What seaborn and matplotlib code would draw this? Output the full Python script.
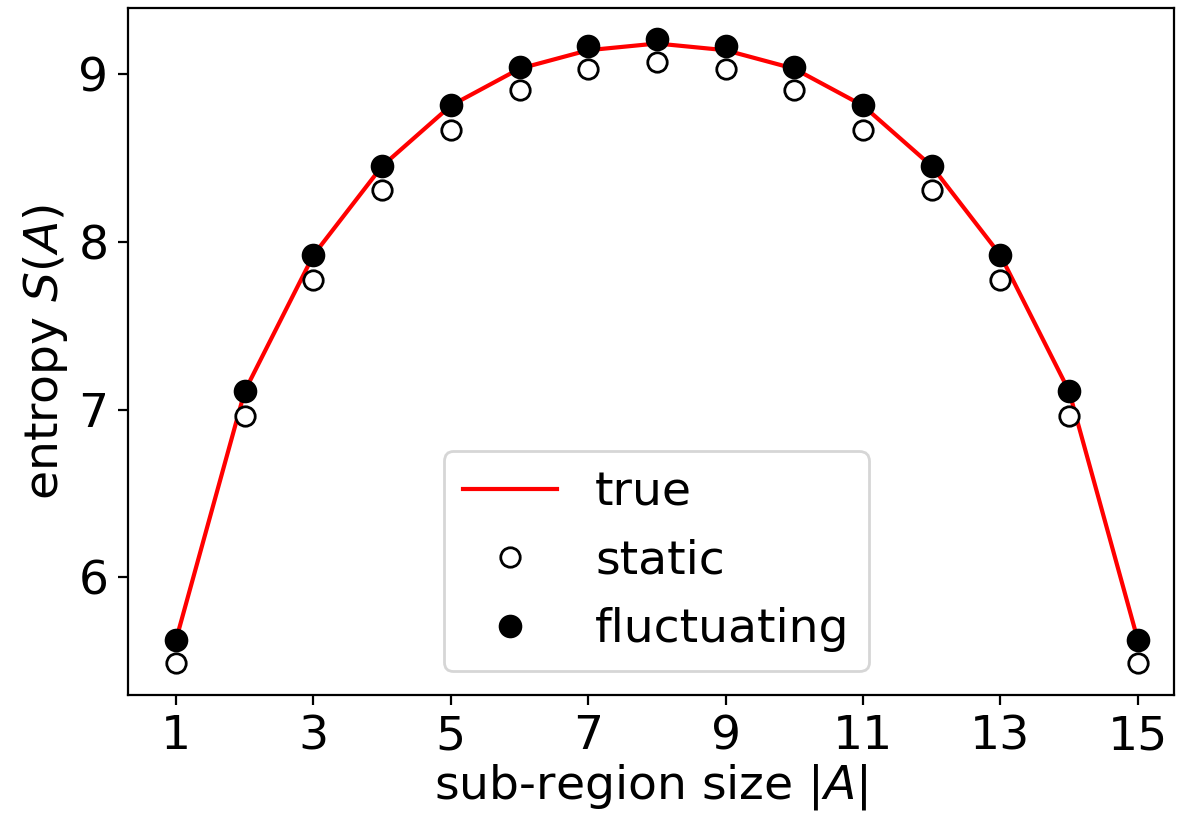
import matplotlib
matplotlib.use("Agg")
import matplotlib.pyplot as plt
import seaborn as sns
import numpy as np
import pandas as pd

sizes = [1, 2, 3, 4, 5, 6, 7, 8, 9, 10, 11, 12, 13, 14, 15]
true_vals = [5.63, 7.11, 7.92, 8.45, 8.81, 9.03, 9.14, 9.18, 9.14, 9.03, 8.81, 8.45, 7.92, 7.11, 5.63]
static_vals = [5.49, 6.96, 7.77, 8.31, 8.665, 8.905, 9.03, 9.07, 9.03, 8.905, 8.665, 8.31, 7.77, 6.96, 5.49]
fluct_vals = [5.625, 7.11, 7.92, 8.45, 8.815, 9.04, 9.167, 9.208, 9.167, 9.04, 8.815, 8.45, 7.92, 7.11, 5.625]
xticks = [1, 3, 5, 7, 9, 11, 13, 15]
yticks = [6, 7, 8, 9]

df = pd.DataFrame({"size": sizes, "true": true_vals, "static": static_vals, "fluct": fluct_vals})

plt.rcParams["font.family"] = ["DejaVu Sans"]
fig, ax = plt.subplots(figsize=(5.9, 4.12), dpi=200)
fig.subplots_adjust(left=0.1085, right=0.995, top=0.990, bottom=0.1566)

sns.lineplot(data=df, x="size", y="true", ax=ax, color="red", lw=1.5, label="true")
ax.plot(df["size"], df["static"], "o", ms=7, mfc="white", mec="black", mew=1.0, ls="none", label="static")
ax.plot(df["size"], df["fluct"], "o", ms=7.5, mfc="black", mec="black", ls="none", label="fluctuating")

ax.set_xlim(0.3, 15.53)
ax.set_ylim(5.30, 9.39)
ax.set_xticks(xticks)
ax.set_yticks(yticks)
ax.tick_params(labelsize=17)
ax.set_xlabel("sub-region size $|A|$", fontsize=17, labelpad=1)
ax.set_ylabel("entropy $S(A)$", fontsize=17, labelpad=3)
ax.legend(loc="lower center", fontsize=17, bbox_to_anchor=(0.505, 0.0))

fig.savefig("out.png", dpi=200)
